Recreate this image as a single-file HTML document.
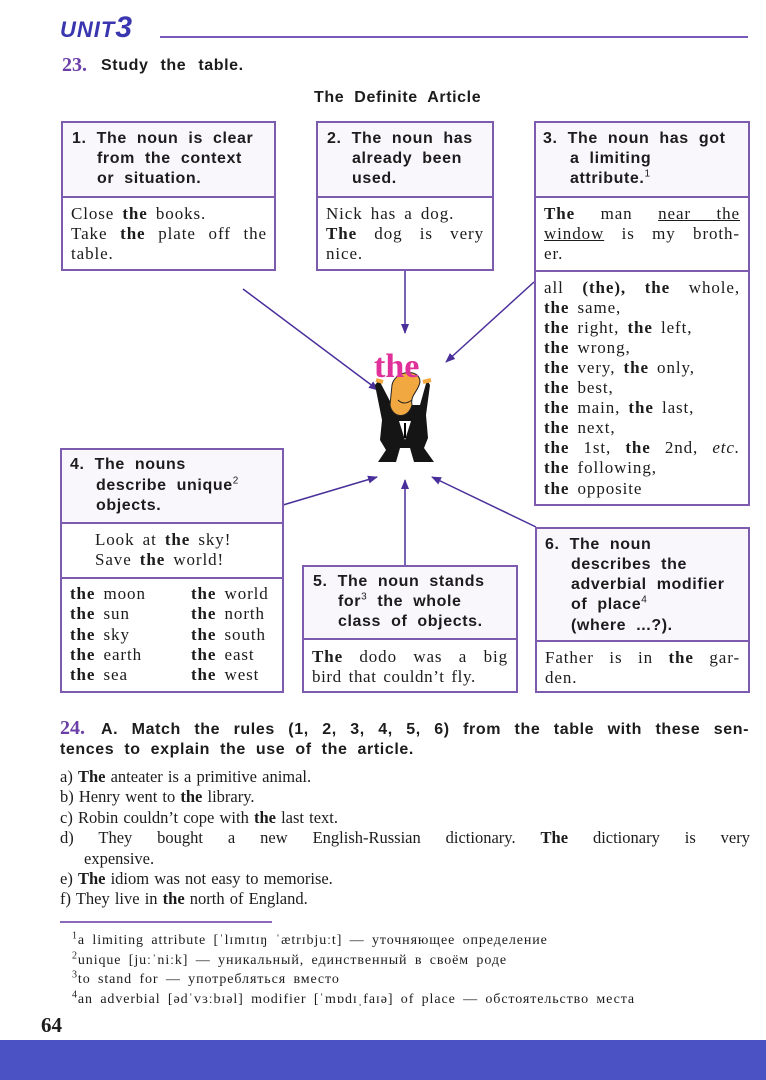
<!DOCTYPE html>
<html><head><meta charset="utf-8">
<style>
body{margin:0;width:766px;height:1080px;position:relative;background:#fff;overflow:hidden;font-family:"Liberation Serif",serif;color:#1c1c1c}
.l{position:absolute;white-space:nowrap;line-height:20px;font-size:17px;letter-spacing:0.9px;word-spacing:3px}
.s{font-family:"Liberation Sans",sans-serif;font-weight:bold;word-spacing:5px;letter-spacing:0.6px;font-size:16px}
.j{text-align:justify;text-align-last:justify;white-space:normal}
.box{position:absolute;border:2px solid #7d5cb0;background:#fff;box-sizing:border-box}
.hd{background:#faf7fc}
b{font-weight:bold}
sup{font-size:10px;line-height:0}
.al{font-size:16.5px;letter-spacing:0px;word-spacing:1px}
</style></head><body>
<div class="l" style="left:60px;top:18px;font-family:'Liberation Sans',sans-serif;font-weight:900;font-style:italic;font-size:22px;color:#3a36b0;letter-spacing:1px">UNIT<span style="font-size:30px">3</span></div>
<div style="position:absolute;left:160px;top:36px;width:588px;height:2px;background:#7a5ab8"></div>
<div class="l" style="left:62px;top:55px;font-size:20px;font-weight:bold;color:#6a3fa8;letter-spacing:0">23.</div>
<div class="l s" style="left:101px;top:56px;word-spacing:7px">Study the table.</div>
<div class="l s" style="left:314px;top:88px;word-spacing:5px">The Definite Article</div>

<svg style="position:absolute;left:0;top:0" width="766" height="1080">
<defs><marker id="a" markerWidth="10" markerHeight="8" refX="9" refY="4" orient="auto" markerUnits="userSpaceOnUse"><path d="M0,0 L10,4 L0,8 z" fill="#4a2f9a"/></marker></defs>
<g stroke="#4a2f9a" stroke-width="1.5" marker-end="url(#a)">
<line x1="243" y1="289" x2="378" y2="390"/>
<line x1="405" y1="270" x2="405" y2="333"/>
<line x1="534" y1="282" x2="446" y2="362"/>
<line x1="283" y1="505" x2="377" y2="477"/>
<line x1="405" y1="566" x2="405" y2="480"/>
<line x1="536" y1="527" x2="432" y2="477"/>
</g>
<g>
<path d="M379,380 L375,385 L382,420 L380,440 L386,450 L378,462 L396,462 L400,448 L410,448 L414,462 L434,462 L424,448 L428,438 L426,415 L430,385 L427,380 L420,405 L392,405 z" fill="#151515"/>
<path d="M383,382 L376,380 M423,382 L431,380" stroke="#f2a840" stroke-width="4"/>
<path d="M392,385 C395,370 420,368 420,382 C418,392 410,395 412,405 C408,420 392,418 390,405 z" fill="#f2a840" stroke="#222" stroke-width="1"/>
<path d="M398,400 Q404,406 412,400" stroke="#222" fill="none"/>
<path d="M399,421 L405,440 L411,421 z" fill="#fff"/>
<line x1="405" y1="423" x2="405" y2="438" stroke="#000" stroke-width="2"/>
</g>
<text x="374" y="377" font-family="Liberation Serif,serif" font-weight="bold" font-size="34" fill="#e0309a">the</text>
</svg>

<!-- Box 1 -->
<div class="box hd" style="left:61px;top:121px;width:215px;height:77px"></div>
<div class="box" style="left:61px;top:196px;width:215px;height:75px"></div>
<div class="l s" style="left:72px;top:129px">1. The noun is clear</div>
<div class="l s" style="left:97px;top:149px">from the context</div>
<div class="l s" style="left:97px;top:169px">or situation.</div>
<div class="l" style="left:71px;top:204px">Close <b>the</b> books.</div>
<div class="l j" style="left:71px;top:224px;width:196px">Take <b>the</b> plate off the</div>
<div class="l" style="left:71px;top:244px">table.</div>

<!-- Box 2 -->
<div class="box hd" style="left:316px;top:121px;width:178px;height:77px"></div>
<div class="box" style="left:316px;top:196px;width:178px;height:75px"></div>
<div class="l s" style="left:327px;top:129px">2. The noun has</div>
<div class="l s" style="left:352px;top:149px">already been</div>
<div class="l s" style="left:352px;top:169px">used.</div>
<div class="l" style="left:326px;top:204px">Nick has a dog.</div>
<div class="l j" style="left:326px;top:224px;width:158px"><b>The</b> dog is very</div>
<div class="l" style="left:326px;top:244px">nice.</div>

<!-- Box 3 -->
<div class="box hd" style="left:534px;top:121px;width:216px;height:77px"></div>
<div class="box" style="left:534px;top:196px;width:216px;height:76px"></div>
<div class="box" style="left:534px;top:270px;width:216px;height:236px"></div>
<div class="l s" style="left:543px;top:129px">3. The noun has got</div>
<div class="l s" style="left:570px;top:149px">a limiting</div>
<div class="l s" style="left:570px;top:169px">attribute.<sup style="font-weight:normal">1</sup></div>
<div class="l j" style="left:544px;top:204px;width:196px"><b>The</b> man <u>near the</u></div>
<div class="l j" style="left:544px;top:224px;width:196px"><u>window</u> is my broth-</div>
<div class="l" style="left:544px;top:244px">er.</div>
<div class="l j" style="left:544px;top:278px;width:196px">all <b>(the),</b> <b>the</b> whole,</div>
<div class="l" style="left:544px;top:298px"><b>the</b> same,</div>
<div class="l" style="left:544px;top:318px"><b>the</b> right, <b>the</b> left,</div>
<div class="l" style="left:544px;top:338px"><b>the</b> wrong,</div>
<div class="l" style="left:544px;top:358px"><b>the</b> very, <b>the</b> only,</div>
<div class="l" style="left:544px;top:378px"><b>the</b> best,</div>
<div class="l" style="left:544px;top:398px"><b>the</b> main, <b>the</b> last,</div>
<div class="l" style="left:544px;top:418px"><b>the</b> next,</div>
<div class="l j" style="left:544px;top:438px;width:196px"><b>the</b> 1st, <b>the</b> 2nd, <i>etc.</i></div>
<div class="l" style="left:544px;top:458px"><b>the</b> following,</div>
<div class="l" style="left:544px;top:479px"><b>the</b> opposite</div>

<!-- Box 4 -->
<div class="box hd" style="left:60px;top:448px;width:224px;height:76px"></div>
<div class="box" style="left:60px;top:522px;width:224px;height:57px"></div>
<div class="box" style="left:60px;top:577px;width:224px;height:116px"></div>
<div class="l s" style="left:70px;top:455px">4. The nouns</div>
<div class="l s" style="left:96px;top:476px">describe unique<sup style="font-weight:normal">2</sup></div>
<div class="l s" style="left:96px;top:496px">objects.</div>
<div class="l" style="left:95px;top:530px">Look at <b>the</b> sky!</div>
<div class="l" style="left:95px;top:550px">Save <b>the</b> world!</div>
<div class="l" style="left:70px;top:584px;line-height:20.3px"><b>the</b> moon<br><b>the</b> sun<br><b>the</b> sky<br><b>the</b> earth<br><b>the</b> sea</div>
<div class="l" style="left:191px;top:584px;line-height:20.3px"><b>the</b> world<br><b>the</b> north<br><b>the</b> south<br><b>the</b> east<br><b>the</b> west</div>

<!-- Box 5 -->
<div class="box hd" style="left:302px;top:565px;width:216px;height:75px"></div>
<div class="box" style="left:302px;top:638px;width:216px;height:55px"></div>
<div class="l s" style="left:313px;top:572px">5. The noun stands</div>
<div class="l s" style="left:338px;top:592px">for<sup style="font-weight:normal">3</sup> the whole</div>
<div class="l s" style="left:338px;top:612px">class of objects.</div>
<div class="l j" style="left:312px;top:647px;width:196px"><b>The</b> dodo was a big</div>
<div class="l" style="left:312px;top:667px;letter-spacing:0.6px;word-spacing:2px">bird that couldn’t fly.</div>

<!-- Box 6 -->
<div class="box hd" style="left:535px;top:527px;width:215px;height:115px"></div>
<div class="box" style="left:535px;top:640px;width:215px;height:53px"></div>
<div class="l s" style="left:545px;top:535px">6. The noun</div>
<div class="l s" style="left:571px;top:555px">describes the</div>
<div class="l s" style="left:571px;top:575px">adverbial modifier</div>
<div class="l s" style="left:571px;top:595px">of place<sup style="font-weight:normal">4</sup></div>
<div class="l s" style="left:571px;top:616px">(where ...?).</div>
<div class="l j" style="left:545px;top:648px;width:195px">Father is in <b>the</b> gar-</div>
<div class="l" style="left:545px;top:668px">den.</div>

<!-- 24 -->
<div class="l" style="left:60px;top:718px;font-size:20px;font-weight:bold;color:#6a3fa8;letter-spacing:0">24.</div>
<div class="l s j" style="left:101px;top:720px;width:648px">A. Match the rules (1, 2, 3, 4, 5, 6) from the table with these sen-</div>
<div class="l s" style="left:60px;top:740px">tences to explain the use of the article.</div>
<div class="l al" style="left:60px;top:767px;line-height:20.4px">a) <b>The</b> anteater is a primitive animal.<br>b) Henry went to <b>the</b> library.<br>c) Robin couldn’t cope with <b>the</b> last text.</div>
<div class="l j al" style="left:60px;top:828px;width:690px">d) They bought a new English-Russian dictionary. <b>The</b> dictionary is very</div>
<div class="l al" style="left:84px;top:849px">expensive.</div>
<div class="l al" style="left:60px;top:869px;line-height:20.4px">e) <b>The</b> idiom was not easy to memorise.<br>f) They live in <b>the</b> north of England.</div>

<div style="position:absolute;left:60px;top:921px;width:212px;height:2px;background:#8a6ab8"></div>
<div class="l" style="left:72px;top:931px;font-size:14px;line-height:19.6px;letter-spacing:0.9px;word-spacing:3px"><sup>1</sup>a limiting attribute [ˈlɪmɪtɪŋ ˈætrɪbjuːt] — уточняющее определение<br><sup>2</sup>unique [juːˈniːk] — уникальный, единственный в своём роде<br><sup>3</sup>to stand for — употребляться вместо<br><sup>4</sup>an adverbial [ədˈvɜːbɪəl] modifier [ˈmɒdɪˌfaɪə] of place — обстоятельство места</div>
<div class="l" style="left:41px;top:1013px;font-size:21px;font-weight:bold;line-height:24px;letter-spacing:0">64</div>
<div style="position:absolute;left:0;top:1040px;width:766px;height:40px;background:#4b52c4"></div>
</body></html>
